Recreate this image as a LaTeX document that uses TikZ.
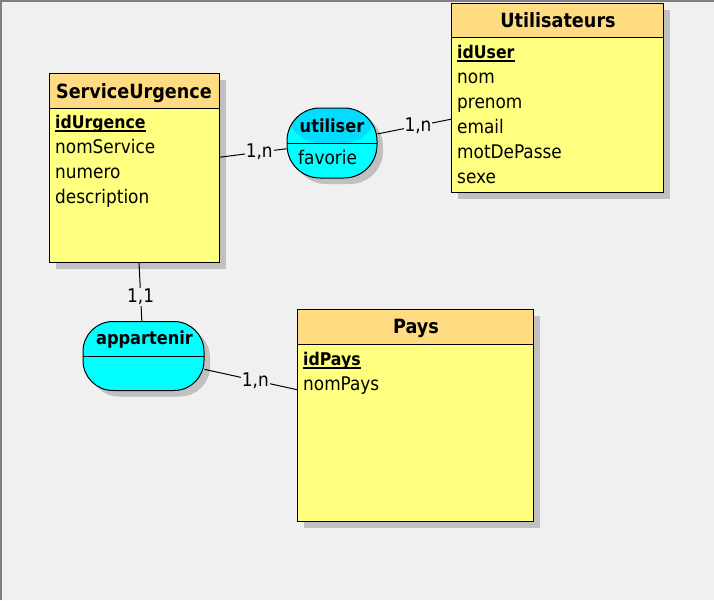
\documentclass[tikz,border=0pt]{standalone}
\usepackage{fontspec}
\setmainfont{DejaVu Sans Condensed}
\usetikzlibrary{shadows}
\definecolor{bggray}{HTML}{F0F0F0}
\definecolor{framegray}{HTML}{808080}
\definecolor{shadowgray}{HTML}{C0C0C0}
\definecolor{entbody}{HTML}{FFFF80}
\definecolor{enthead}{HTML}{FFDC82}
\definecolor{assocfill}{HTML}{00FFFF}
\definecolor{assochead}{HTML}{00DDFF}
\tikzset{
    entity/.style={draw, fill=entbody, anchor=north west, inner sep=0pt, line width=1pt,
        drop shadow={shadow xshift=6pt, shadow yshift=-6pt, fill=shadowgray, opacity=1}},
    entityhead/.style={draw, fill=enthead, anchor=north west, inner sep=0pt, line width=1pt},
    entitle/.style={anchor=base, inner sep=0pt, font=\fontsize{19.6}{24}\selectfont\bfseries},
    attr/.style={anchor=base west, inner sep=0pt, font=\fontsize{18.8}{22}\selectfont},
    idattr/.style={attr, font=\fontsize{17.5}{22}\selectfont\bfseries},
    assoc/.style={draw, fill=assocfill, inner sep=0pt, line width=1pt,
        drop shadow={shadow xshift=6pt, shadow yshift=-6pt, fill=shadowgray, opacity=1}},
    assoctitle/.style={anchor=base, inner sep=0pt, font=\fontsize{18}{22}\selectfont\bfseries},
    card/.style={fill=bggray, inner sep=1pt, font=\fontsize{18.8}{22}\selectfont},
    link/.style={line width=1pt},
    halfsplit/.style={path picture={
        \fill[#1] (path picture bounding box.north west) rectangle (path picture bounding box.east);
        \draw[line width=1pt] (path picture bounding box.west) -- (path picture bounding box.east);}}
}
\begin{document}
\begin{tikzpicture}[x=1pt, y=-1pt]
    \useasboundingbox (0,0) rectangle (714,600);
    \fill[bggray] (0,0) rectangle (714,600);
    \draw[framegray, line width=2pt] (1,600) -- (1,1) -- (714,1);
    % ServiceUrgence
    \node[entity, minimum width=170pt, minimum height=189pt] (su) at (49,73) {};
    \node[entityhead, minimum width=170pt, minimum height=35pt] (su-h) at (49,73) {};
    \node[entitle] (su-t) at (134,98) {ServiceUrgence};
    \node[idattr] (su-k) at (55,128) {idUrgence};
    \draw[line width=1.5pt] ([yshift=-3pt]su-k.base west) -- ([yshift=-3pt]su-k.base east);
    \foreach \a [count=\i] in {nomService,numero,description}
        \node[attr] (su-\i) at (55,128+25*\i) {\a};
    % Utilisateurs
    \node[entity, minimum width=212pt, minimum height=189pt] (user) at (451,3) {};
    \node[entityhead, minimum width=212pt, minimum height=34pt] (user-h) at (451,3) {};
    \node[entitle] (user-t) at (558,27) {Utilisateurs};
    \node[idattr] (user-k) at (457,58) {idUser};
    \draw[line width=1.5pt] ([yshift=-3pt]user-k.base west) -- ([yshift=-3pt]user-k.base east);
    \foreach \a [count=\i] in {nom,prenom,email,motDePasse,sexe}
        \node[attr] (user-\i) at (457,58+25*\i) {\a};
    % Pays
    \node[entity, minimum width=236pt, minimum height=212pt] (pays) at (297,309) {};
    \node[entityhead, minimum width=236pt, minimum height=35pt] (pays-h) at (297,309) {};
    \node[entitle] (pays-t) at (416,333) {Pays};
    \node[idattr] (pays-k) at (303,365) {idPays};
    \draw[line width=1.5pt] ([yshift=-3pt]pays-k.base west) -- ([yshift=-3pt]pays-k.base east);
    \node[attr] (pays-1) at (303,390) {nomPays};
    % associations
    \node[assoc, rounded corners=33pt, halfsplit=assochead, minimum width=90pt, minimum height=70pt] (utiliser) at (332,143) {};
    \node[assoctitle] (utiliser-t) at (332,132) {utiliser};
    \node[attr] (utiliser-1) at (298,164) {favorie};
    \node[assoc, rounded corners=30pt, halfsplit=assocfill, minimum width=121pt, minimum height=69pt] (appartenir) at (143.5,356) {};
    \node[assoctitle] (appartenir-t) at (144.5,344) {appartenir};
    % liens
    \draw[link] (su) -- node[card, pos=0.59] (c1) {1,n} (utiliser);
    \draw[link] (utiliser) -- node[card, pos=0.55] (c2) {1,n} (user);
    \draw[link] (su) -- node[card, pos=0.59] (c3) {1,1} (appartenir);
    \draw[link] (appartenir) -- node[card, pos=0.55] (c4) {1,n} (pays);
\end{tikzpicture}
\end{document}
